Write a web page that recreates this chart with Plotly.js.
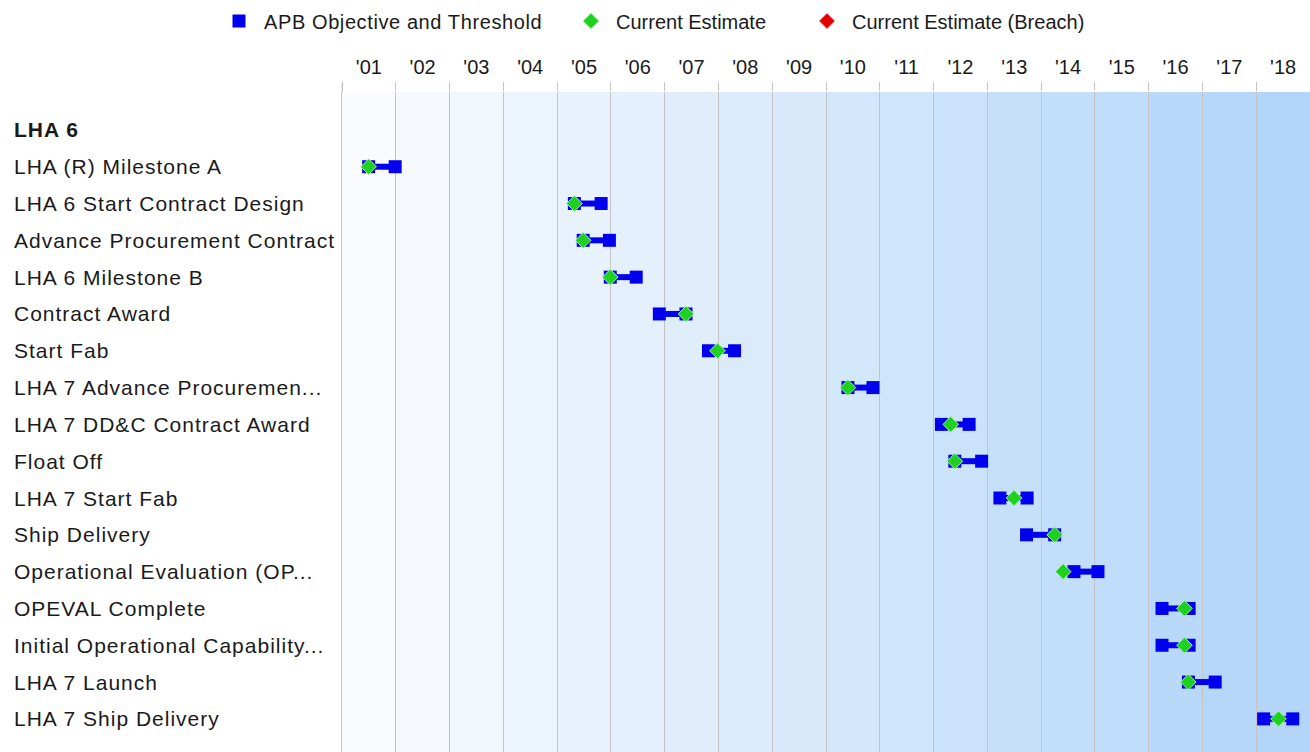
<!DOCTYPE html>
<html>
<head>
<meta charset="utf-8">
<script src="https://cdn.plot.ly/plotly-3.0.1.min.js"></script>
<style>
html,body{margin:0;padding:0;background:#fff;}
#chart{width:1310px;height:752px;}
.annotation-text{letter-spacing:1px;}
.legendtext{letter-spacing:0.6px;}
</style>
</head>
<body>
<div id="chart"></div>
<script>
// ---- data ----
const rows = [
  'LHA 6',
  'LHA (R) Milestone A',
  'LHA 6 Start Contract Design',
  'Advance Procurement Contract',
  'LHA 6 Milestone B',
  'Contract Award',
  'Start Fab',
  'LHA 7 Advance Procuremen...',
  'LHA 7 DD&C Contract Award',
  'Float Off',
  'LHA 7 Start Fab',
  'Ship Delivery',
  'Operational Evaluation (OP...',
  'OPEVAL Complete',
  'Initial Operational Capability...',
  'LHA 7 Launch',
  'LHA 7 Ship Delivery'
];
const headerRows = [0];
const objective = [null,
  '2001-07-01','2005-04-28','2005-06-27','2005-12-28','2006-11-26','2007-10-26',
  '2010-05-30','2012-02-24','2012-05-25','2013-03-27','2013-09-24','2014-08-12',
  '2016-04-01','2016-04-01','2016-09-27','2018-02-20'];
const threshold = [null,
  '2001-12-28','2005-10-27','2005-12-22','2006-06-22','2007-05-26','2008-04-20',
  '2010-11-16','2012-08-30','2012-11-23','2013-09-28','2014-04-03','2015-01-22',
  '2016-10-02','2016-10-02','2017-03-28','2018-09-06'];
const estimate = [null,
  '2001-07-01','2005-04-28','2005-06-27','2005-12-28','2007-05-26','2007-12-26',
  '2010-05-30','2012-04-27','2012-05-25','2013-07-01','2014-04-03','2014-05-31',
  '2016-08-31','2016-08-31','2016-09-27','2018-06-01'];
const breach = [null,null,null,null,null,null,null,null,null,null,null,null,null,null,null,null,null];
const years = ['2001','2002','2003','2004','2005','2006','2007','2008','2009','2010','2011','2012','2013','2014','2015','2016','2017','2018'];

// ---- build traces ----
const idx = rows.map((r,i)=>i);
const lineX = [], lineY = [];
idx.forEach(i=>{ if(objective[i]){ lineX.push(objective[i], threshold[i], null); lineY.push(i,i,null);} });
const sqX = [], sqY = [];
idx.forEach(i=>{ if(objective[i]){ sqX.push(objective[i], threshold[i]); sqY.push(i,i);} });

const BLUE = '#0000ee';
const traces = [
  {x: lineX, y: lineY, mode:'lines', line:{color:BLUE, width:6}, showlegend:false, hoverinfo:'skip'},
  {x: sqX, y: sqY, mode:'markers', name:'APB Objective and Threshold', legend:'legend',
   marker:{symbol:'square', size:13, color:BLUE}},
  {x: estimate, y: idx, mode:'markers', name:'Current Estimate', legend:'legend2',
   marker:{symbol:'diamond', size:12, color:'#1fd11f', line:{color:'#9cf29c', width:1}}},
  {x: breach, y: idx, mode:'markers', name:'Current Estimate (Breach)', legend:'legend3',
   marker:{symbol:'diamond', size:12, color:'#e00000', line:{color:'#ff9c9c', width:1}}}
];

// background bands (style)
const c0=[249,251,254], c1=[178,213,249];
const shapes = years.map((y,k)=>{
  const t = k/(years.length-1);
  const c = c0.map((v,j)=>Math.round(v+(c1[j]-v)*t));
  return {type:'rect', xref:'x', yref:'paper', layer:'below',
    x0: y+'-01-01', x1: (parseInt(y)+1)+'-01-01', y0:0, y1:1,
    fillcolor:'rgb('+c.join(',')+')', line:{width:0}};
});
shapes.push({type:'line', xref:'paper', yref:'paper', x0:0, x1:0, y0:1, y1:1+9/660,
  line:{color:'#c4c4c4', width:1}});

const annotations = rows.map((r,i)=>({
  xref:'paper', yref:'y', x:0, y:i, xanchor:'left', yanchor:'middle', xshift:-330,
  text: headerRows.includes(i) ? '<b>'+r+'</b>' : r, showarrow:false,
  font:{family:'Liberation Sans, Arial, sans-serif', size:21, color:'#1a1a1a'}
}));

function leg(xpx){
  return {orientation:'h', xref:'container', yref:'container', x:xpx/1310, xanchor:'left',
    y:0.998, yanchor:'top', font:{size:20, color:'#1a1a1a'}, itemwidth:40,
    bgcolor:'rgba(0,0,0,0)', borderwidth:0};
}

const layout = {
  width:1310, height:752, autosize:false,
  margin:{l:342, r:0, t:92, b:0, pad:0},
  paper_bgcolor:'#ffffff', plot_bgcolor:'#ffffff',
  font:{family:'Liberation Sans, Arial, sans-serif', size:20, color:'#1a1a1a'},
  showlegend:true,
  legend: leg(214), legend2: leg(566), legend3: leg(802),
  xaxis:{type:'date', side:'top', range:['2001-01-01','2019-01-01'],
    tick0:'2001-01-01', dtick:'M12', tickformat:"'%y", ticklabelmode:'period',
    ticks:'outside', ticklen:9, tickcolor:'#c4c4c4', tickwidth:1,
    showgrid:true, gridcolor:'#c4c4c4', gridwidth:1, showline:false, zeroline:false,
    tickfont:{size:20, color:'#1a1a1a'}, fixedrange:true},
  yaxis:{range:[16.9,-1.03], showticklabels:false, ticks:'', showgrid:false, zeroline:false,
    showline:true, linecolor:'#c4c4c4', linewidth:1, fixedrange:true},
  shapes: shapes,
  annotations: annotations
};

Plotly.newPlot('chart', traces, layout, {displayModeBar:false, staticPlot:true});
</script>
</body>
</html>
